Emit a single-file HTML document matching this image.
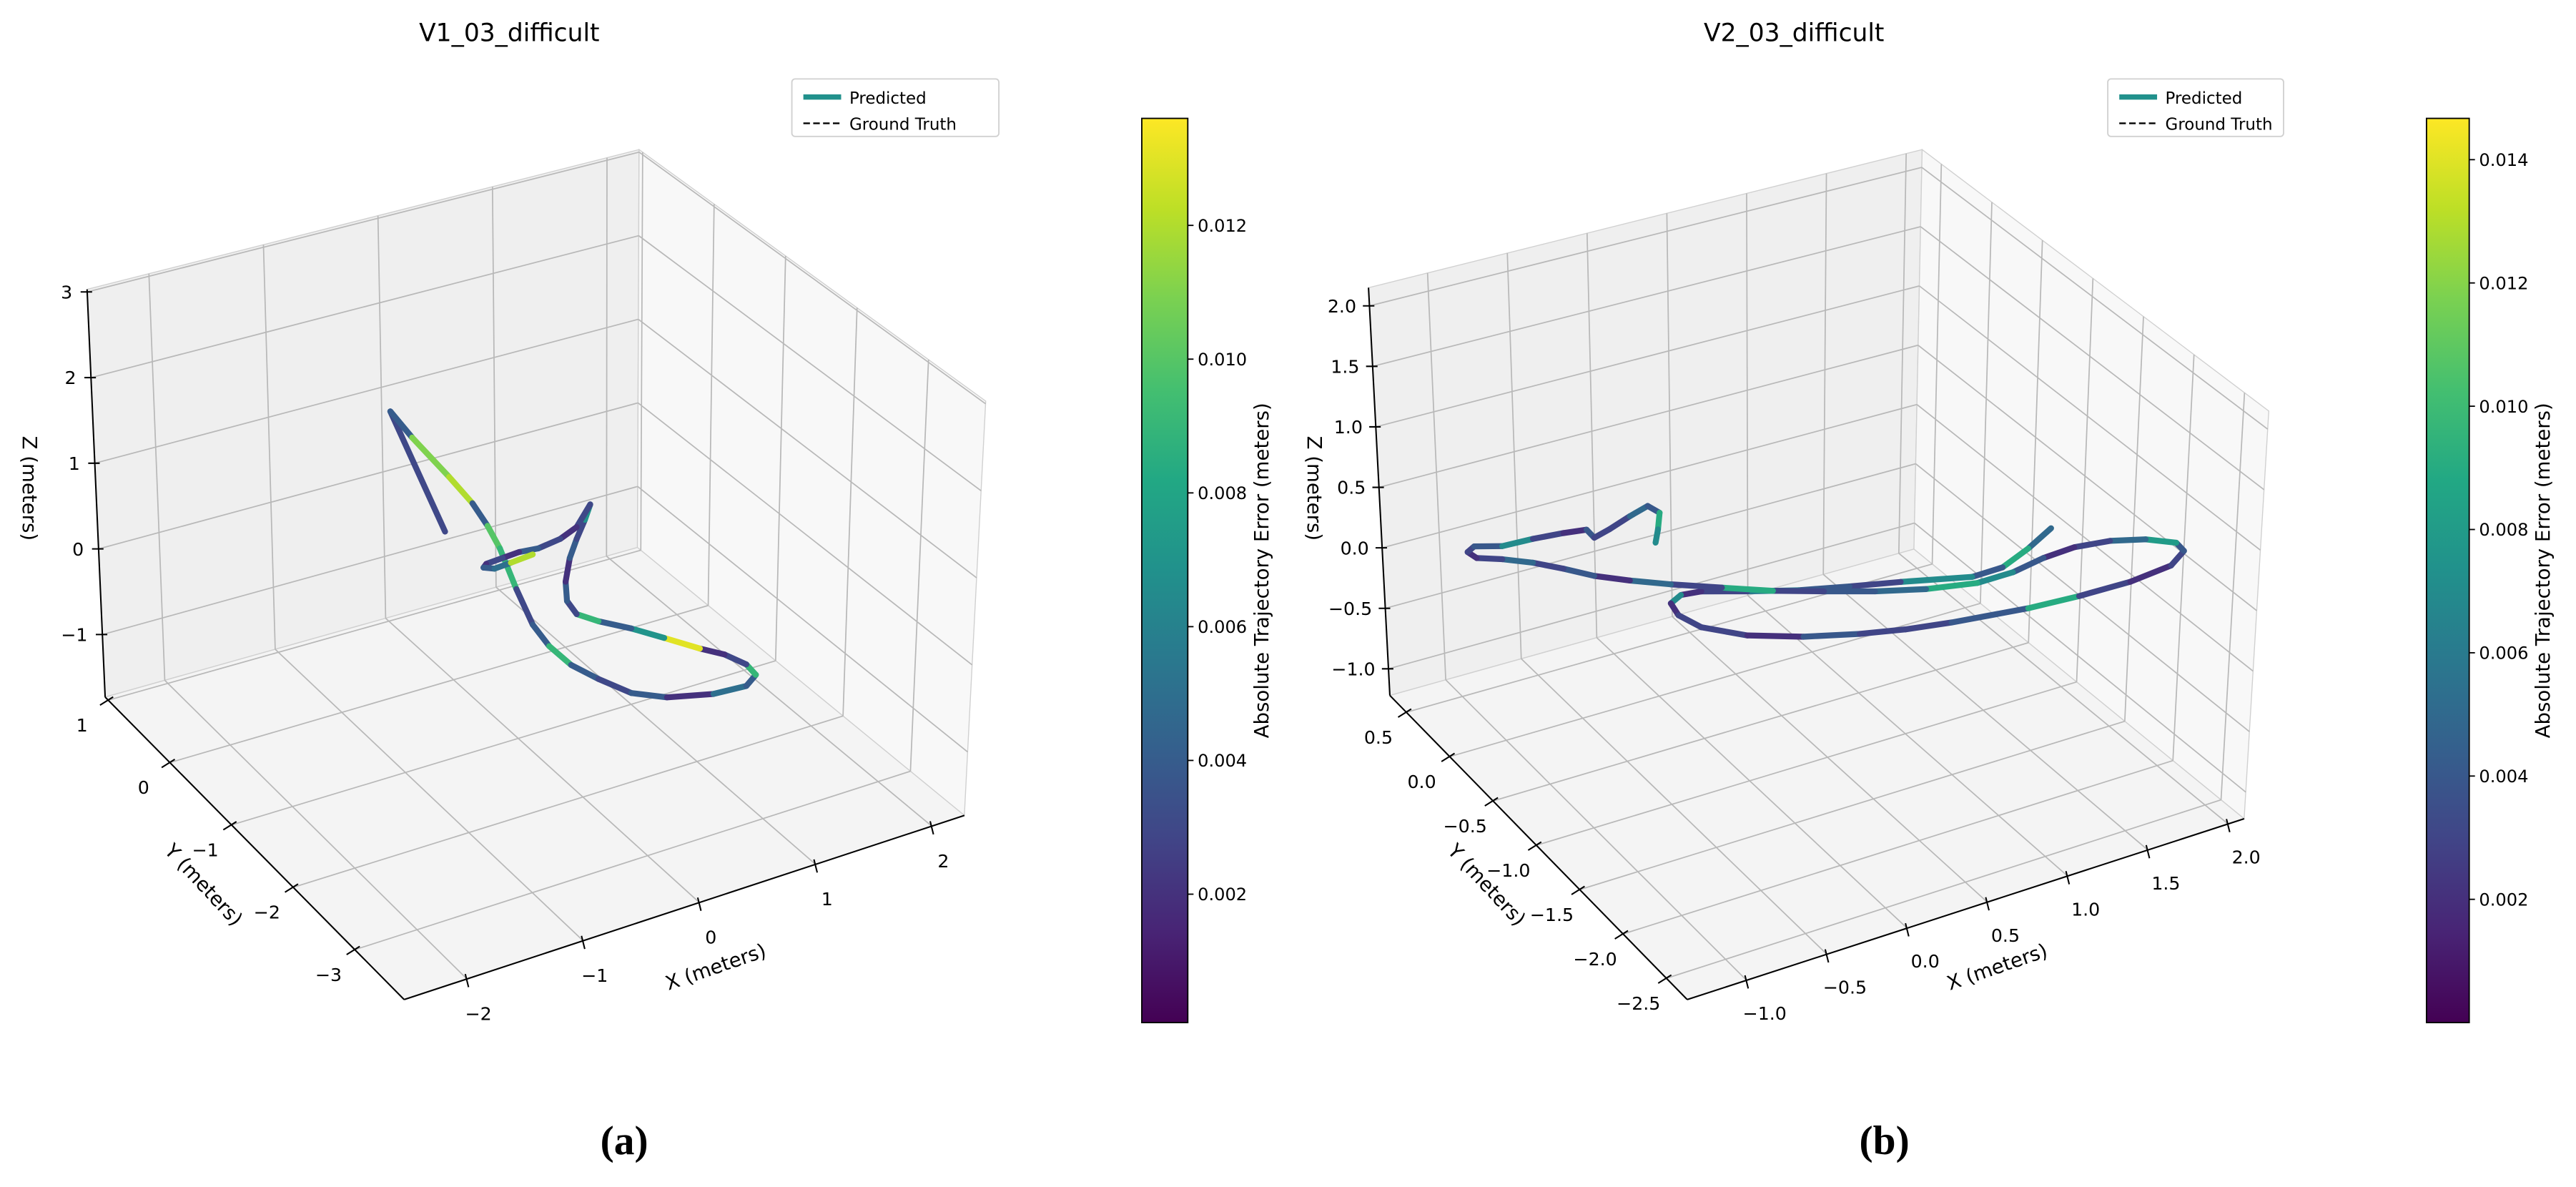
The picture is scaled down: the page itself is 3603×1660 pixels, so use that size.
<!DOCTYPE html>
<html><head><meta charset="utf-8"><style>
html,body{margin:0;padding:0;background:#fff;}
svg{display:block;}
text{font-family:"DejaVu Sans","Liberation Sans",sans-serif;fill:#000;}
</style></head>
<body>
<svg id="fig" width="3603" height="1660" viewBox="0 0 1568 722" preserveAspectRatio="none" xmlns="http://www.w3.org/2000/svg">
<defs>
<linearGradient id="vir" x1="0" y1="1" x2="0" y2="0">
<stop offset="0" stop-color="#440154"/><stop offset="0.1" stop-color="#482475"/><stop offset="0.2" stop-color="#414487"/><stop offset="0.3" stop-color="#355f8d"/><stop offset="0.4" stop-color="#2a788e"/><stop offset="0.5" stop-color="#21918c"/><stop offset="0.6" stop-color="#22a884"/><stop offset="0.7" stop-color="#44bf70"/><stop offset="0.8" stop-color="#7ad151"/><stop offset="0.9" stop-color="#bddf26"/><stop offset="1" stop-color="#fde725"/>
</linearGradient>
</defs>
<g id="panelA"></g>
<g id="panelB"></g>
<text x="380" y="702" text-anchor="middle" style="font-family:'Liberation Serif',serif;font-size:25px;font-weight:bold">(a)</text>
<text x="1147" y="702" text-anchor="middle" style="font-family:'Liberation Serif',serif;font-size:25px;font-weight:bold">(b)</text>
</svg>
<script>
// ---- Panel A data (V1_03_difficult) ----
const aXTicks = [-2, -1, 0, 1, 2];
const aYTicks = [-3, -2, -1, 0, 1];
const aZTicks = [-1, 0, 1, 2, 3];
const aCbTicks = [0.002, 0.004, 0.006, 0.008, 0.010, 0.012];
const aTrajX = [-0.703,-1.174,-0.986,-0.668,-0.467,-0.337,-0.231,-0.089,0.052,0.194,0.382,0.618,0.901,1.208,1.608,1.891,1.973,1.891,1.703,1.491,1.184,0.901,0.618,0.430,0.347,0.335,0.371,0.430,0.501,0.547,0.430,0.289,0.099,-0.065,-0.207,-0.348,-0.372,-0.277,-0.136,0.052];
const aTrajY = [-1,-1,-1,-1,-1,-1,-1,-1,-1,-1,-1,-1,-1,-1,-1,-1,-1,-1,-1,-1,-1,-1,-1,-1,-1,-1,-1,-1,-1,-1,-1,-1,-1,-1,-1,-1,-1,-1,-1,-1];
const aTrajZ = [0.884,2.50,2.11,1.508,1.11,0.788,0.477,-0.062,-0.542,-0.856,-1.16,-1.43,-1.72,-1.908,-2.046,-2.079,-1.985,-1.827,-1.627,-1.463,-1.202,-0.965,-0.754,-0.587,-0.396,-0.165,0.096,0.292,0.485,0.644,0.431,0.356,0.329,0.360,0.354,0.348,0.315,0.260,0.267,0.280];
const aErr = [0.003,0.004,0.011,0.012,0.004,0.010,0.009,0.003,0.004,0.009,0.004,0.003,0.004,0.002,0.005,0.004,0.009,0.003,0.002,0.013,0.007,0.004,0.009,0.003,0.004,0.002,0.004,0.003,0.007,0.003,0.002,0.003,0.004,0.002,0.003,0.002,0.004,0.005,0.012,0.003];

// ---- Panel B data (V2_03_difficult) ----
const bXTicks = [-1.0, -0.5, 0.0, 0.5, 1.0, 1.5, 2.0];
const bYTicks = [-2.5, -2.0, -1.5, -1.0, -0.5, 0.0, 0.5];
const bZTicks = [-1.0, -0.5, 0.0, 0.5, 1.0, 1.5, 2.0];
const bCbTicks = [0.002, 0.004, 0.006, 0.008, 0.010, 0.012, 0.014];
const bTrajX = [1.838,1.696,1.536,1.346,0.901,0.582,0.264,-0.054,-0.341,-0.468,-0.531,-0.483,-0.341,-0.054,0.296,0.646,0.932,1.218,1.696,2.013,2.332,2.586,2.666,2.618,2.427,2.205,1.982,1.791,1.600,1.378,1.059,0.741,0.423,0.105,-0.213,-0.531,-0.786,-1.008,-1.200,-1.390,-1.581,-1.740,-1.797,-1.756,-1.581,-1.390,-1.200,-1.056,-1.008,-0.913,-0.786,-0.675,-0.601,-0.611,-0.626];
const bTrajY = [-1,-1,-1,-1,-1,-1,-1,-1,-1,-1,-1,-1,-1,-1,-1,-1,-1,-1,-1,-1,-1,-1,-1,-1,-1,-1,-1,-1,-1,-1,-1,-1,-1,-1,-1,-1,-1,-1,-1,-1,-1,-1,-1,-1,-1,-1,-1,-1,-1,-1,-1,-1,-1,-1,-1];
const bTrajZ = [0.018,-0.088,-0.175,-0.172,-0.022,0.078,0.183,0.311,0.434,0.459,0.417,0.298,0.138,-0.053,-0.214,-0.341,-0.427,-0.493,-0.581,-0.617,-0.636,-0.611,-0.525,-0.437,-0.327,-0.244,-0.201,-0.207,-0.243,-0.236,-0.149,-0.031,0.106,0.247,0.410,0.574,0.715,0.849,0.991,1.122,1.233,1.311,1.385,1.414,1.341,1.319,1.285,1.251,1.164,1.193,1.246,1.283,1.195,1.062,0.959];
const bErr = [0.005,0.009,0.004,0.007,0.003,0.004,0.006,0.003,0.002,0.007,0.002,0.003,0.003,0.002,0.004,0.003,0.003,0.004,0.009,0.003,0.002,0.003,0.004,0.008,0.005,0.003,0.002,0.004,0.007,0.009,0.005,0.004,0.003,0.009,0.003,0.005,0.002,0.004,0.003,0.005,0.003,0.002,0.003,0.004,0.007,0.003,0.002,0.004,0.003,0.003,0.005,0.004,0.009,0.007,0.003];

const NS = 'http://www.w3.org/2000/svg';
const VIR = ['#440154','#482475','#414487','#355f8d','#2a788e','#21918c','#22a884','#44bf70','#7ad151','#bddf26','#fde725'];
function hex(c){return [parseInt(c.substr(1,2),16),parseInt(c.substr(3,2),16),parseInt(c.substr(5,2),16)];}
function viridis(t){
  t=Math.max(0,Math.min(1,t)); const s=t*10; const i=Math.min(9,Math.floor(s)); const f=s-i;
  const a=hex(VIR[i]), b=hex(VIR[i+1]);
  return 'rgb('+a.map((v,k)=>Math.round(v+(b[k]-v)*f)).join(',')+')';
}
function mk(parent,tag,attrs,txt){
  const e=document.createElementNS(NS,tag);
  for(const k in attrs) e.setAttribute(k,attrs[k]);
  if(txt!==undefined) e.textContent=txt;
  parent.appendChild(e); return e;
}

function buildPanel(cfg){
  const g=document.getElementById(cfg.id);
  const L=cfg.lims;
  function lerp(a,b,t){return [a[0]+(b[0]-a[0])*t,a[1]+(b[1]-a[1])*t];}
  const C=cfg.corners;
  const dF=[C.dL[0]+C.dR[0]-C.dB[0], C.dL[1]+C.dR[1]-C.dB[1]];
  function boxProj(x,y,z){
    const u=(x-L.x[0])/(L.x[1]-L.x[0]), v=(y-L.y[0])/(L.y[1]-L.y[0]), w=(z-L.z[0])/(L.z[1]-L.z[0]);
    const f=lerp(lerp(C.F,C.R,u),lerp(C.L,C.B,u),v);
    const d=lerp(lerp(dF,C.dR,u),lerp(C.dL,C.dB,u),v);
    return [f[0]+w*d[0], f[1]+w*d[1]];
  }
  function trajProj(x,y,z){
    const A=cfg.aff;
    return [A.o[0]+x*A.ex[0]+y*A.ey[0]+z*A.ez[0], A.o[1]+x*A.ex[1]+y*A.ey[1]+z*A.ez[1]];
  }
  const pt=p=>p[0].toFixed(2)+','+p[1].toFixed(2);
  const X0=L.x[0],X1=L.x[1],Y0=L.y[0],Y1=L.y[1],Z0=L.z[0],Z1=L.z[1];
  const lw=mk(g,'polygon',{points:[boxProj(X0,Y1,Z0),boxProj(X1,Y1,Z0),boxProj(X1,Y1,Z1),boxProj(X0,Y1,Z1)].map(pt).join(' '),fill:'#efefef',stroke:'#d0d0d0','stroke-width':0.6});
  
  
  const rw=mk(g,'polygon',{points:[boxProj(X1,Y0,Z0),boxProj(X1,Y1,Z0),boxProj(X1,Y1,Z1),boxProj(X1,Y0,Z1)].map(pt).join(' '),fill:'#f8f8f8',stroke:'#d0d0d0','stroke-width':0.6});
  
  
  const fl=mk(g,'polygon',{points:[boxProj(X0,Y0,Z0),boxProj(X1,Y0,Z0),boxProj(X1,Y1,Z0),boxProj(X0,Y1,Z0)].map(pt).join(' '),fill:'#f4f4f4',stroke:'#d0d0d0','stroke-width':0.6});
  
  
  const grid=mk(g,'g',{stroke:'#b8b8b8','stroke-width':0.75,fill:'none'});
  
  
  function gl(a,b){mk(grid,'line',{x1:a[0],y1:a[1],x2:b[0],y2:b[1]});}
  cfg.xt.forEach(x=>{gl(boxProj(x,Y1,Z0),boxProj(x,Y1,Z1)); gl(boxProj(x,Y0,Z0),boxProj(x,Y1,Z0));});
  cfg.yt.forEach(y=>{gl(boxProj(X1,y,Z0),boxProj(X1,y,Z1)); gl(boxProj(X0,y,Z0),boxProj(X1,y,Z0));});
  cfg.zt.forEach(z=>{gl(boxProj(X0,Y1,z),boxProj(X1,Y1,z)); gl(boxProj(X1,Y0,z),boxProj(X1,Y1,z));});
  const ax=mk(g,'g',{stroke:'#000','stroke-width':0.9});
  
  
  function al(a,b){mk(ax,'line',{x1:a[0],y1:a[1],x2:b[0],y2:b[1]});}
  al(boxProj(X0,Y1,Z0),boxProj(X0,Y1,Z1));
  al(boxProj(X0,Y1,Z0),boxProj(X0,Y0,Z0));
  al(boxProj(X0,Y0,Z0),boxProj(X1,Y0,Z0));
  const fmt=cfg.fmt;
  cfg.zt.forEach(z=>{
    const p=boxProj(X0,Y1,z);
    al([p[0]-4,p[1]],[p[0]+3,p[1]]);
    const t=mk(g,'text',{x:p[0]-cfg.zLabDx,y:p[1]+4,'text-anchor':'end','font-size':11},fmt(z));
    
    
  });
  cfg.yt.forEach(y=>{
    const p=boxProj(X0,y,Z0);
    al([p[0]-5,p[1]+3],[p[0]+3,p[1]-2]);
    const t=mk(g,'text',{x:p[0]+cfg.yLab[0],y:p[1]+cfg.yLab[1]+4,'text-anchor':'middle','font-size':11},fmt(y));
    
    
  });
  cfg.xt.forEach(x=>{
    const p=boxProj(x,Y0,Z0);
    al([p[0]+1,p[1]+5],[p[0]-1,p[1]-3]);
    const t=mk(g,'text',{x:p[0]+cfg.xLab[0],y:p[1]+cfg.xLab[1]+4,'text-anchor':'middle','font-size':11},fmt(x));
    
    
  });
  const xl=mk(g,'text',{x:cfg.xTitle[0],y:cfg.xTitle[1],'text-anchor':'middle','font-size':12,transform:'rotate(-19 '+cfg.xTitle[0]+' '+cfg.xTitle[1]+')'},'X (meters)');
  
  
  const yl=mk(g,'text',{x:cfg.yTitle[0],y:cfg.yTitle[1],'text-anchor':'middle','font-size':12,transform:'rotate(47 '+cfg.yTitle[0]+' '+cfg.yTitle[1]+')'},'Y (meters)');
  
  
  const zl=mk(g,'text',{x:cfg.zTitle[0],y:cfg.zTitle[1],'text-anchor':'middle','font-size':12,transform:'rotate(90 '+cfg.zTitle[0]+' '+cfg.zTitle[1]+')'},'Z (meters)');
  
  
  const tg=mk(g,'g',{'stroke-width':3.6,'stroke-linecap':'round','stroke-linejoin':'round',fill:'none'});
  
  
  const cb=cfg.cb;
  for(let i=0;i<cfg.tx.length-1;i++){
    const a=trajProj(cfg.tx[i],cfg.ty[i],cfg.tz[i]), b=trajProj(cfg.tx[i+1],cfg.ty[i+1],cfg.tz[i+1]);
    const col=viridis((cfg.err[i]-cb.min)/(cb.max-cb.min));
    const seg=mk(tg,'line',{x1:a[0],y1:a[1],x2:b[0],y2:b[1],stroke:col});
    
    
  }
  const ti=mk(g,'text',{x:cfg.title[0],y:cfg.title[1],'text-anchor':'middle','font-size':15},cfg.titleText);
  
  
  const lg=mk(g,'g',{});
  
  
  const lx=cfg.legend[0], ly=cfg.legend[1];
  mk(lg,'rect',{x:lx,y:ly,width:cfg.legend[2],height:35,rx:2,fill:'#fff','fill-opacity':0.8,stroke:'#d0d0d0','stroke-width':0.8});
  const e1=mk(lg,'line',{x1:lx+7,y1:ly+11,x2:lx+30,y2:ly+11,stroke:'#21918c','stroke-width':3.2});
  
  
  mk(lg,'text',{x:lx+35,y:ly+15,'font-size':10},'Predicted');
  const e2=mk(lg,'line',{x1:lx+7,y1:ly+27,x2:lx+30,y2:ly+27,stroke:'#000','stroke-width':1,'stroke-dasharray':'4,2'});
  
  
  mk(lg,'text',{x:lx+35,y:ly+31,'font-size':10},'Ground Truth');
  const cg=mk(g,'g',{});
  
  
  mk(cg,'rect',{x:cb.x,y:cb.y0,width:cb.w,height:cb.y1-cb.y0,fill:'url(#vir)',stroke:'#000','stroke-width':0.8});
  const cy=v=>cb.y1-(v-cb.min)/(cb.max-cb.min)*(cb.y1-cb.y0);
  cfg.cbt.forEach(v=>{
    const y=cy(v);
    mk(cg,'line',{x1:cb.x+cb.w,y1:y,x2:cb.x+cb.w+3.5,y2:y,stroke:'#000','stroke-width':0.8});
    const t=mk(cg,'text',{x:cb.x+cb.w+6,y:y+3.8,'font-size':10.5},v.toFixed(3));
    
    
  });
  const ct=mk(cg,'text',{x:cb.lx,y:347,'text-anchor':'middle','font-size':12,transform:'rotate(-90 '+cb.lx+' 347)'},'Absolute Trajectory Error (meters)');
  
  
}

buildPanel({
  id:'panelA', titleText:'V1_03_difficult', title:[310,25],
  lims:{x:[-2.54,2.28],y:[-3.8,1.05],z:[-1.73,3.03]},
  corners:{F:[246,608],R:[587,496],L:[64,424],B:[388,333],dL:[-11,-248],dB:[1,-242],dR:[13,-252]},
  aff:{o:[283.1,315.1],ex:[70.7,-23.2],ey:[-37.5,-37.9],ez:[0,-52]},
  xt:aXTicks, yt:aYTicks, zt:aZTicks,
  fmt:v=>String(v).replace('-','\u2212'),
  zLabDx:9, yLab:[-16,15], xLab:[7,21],
  xTitle:[437,592], yTitle:[121,541], zTitle:[14,297],
  tx:aTrajX, ty:aTrajY, tz:aTrajZ, err:aErr,
  legend:[482,48,126],
  cb:{x:695,w:28,y0:72,y1:622,min:0.00008,max:0.0136,lx:772}, cbt:aCbTicks
});
buildPanel({
  id:'panelB', titleText:'V2_03_difficult', title:[1092,25],
  lims:{x:[-1.37,2.1],y:[-2.74,0.69],z:[-1.22,2.15]},
  corners:{F:[1027,608],R:[1366,498],L:[846,423],B:[1165,334],dL:[-13,-248],dB:[5,-243],dR:[15,-248]},
  aff:{o:[1016.1,327],ex:[97.7,-31.7],ey:[-52.8,-53.9],ez:[0,-73.7]},
  xt:bXTicks, yt:bYTicks, zt:bZTicks,
  fmt:v=>v.toFixed(1).replace('-','\u2212'),
  zLabDx:8, yLab:[-17,15], xLab:[11,20],
  xTitle:[1217,592], yTitle:[902,541], zTitle:[796,297],
  tx:bTrajX, ty:bTrajY, tz:bTrajZ, err:bErr,
  legend:[1283,48,107],
  cb:{x:1477,w:26,y0:72,y1:622,min:0.0,max:0.01467,lx:1552}, cbt:bCbTicks
});
</script>
</body></html>
